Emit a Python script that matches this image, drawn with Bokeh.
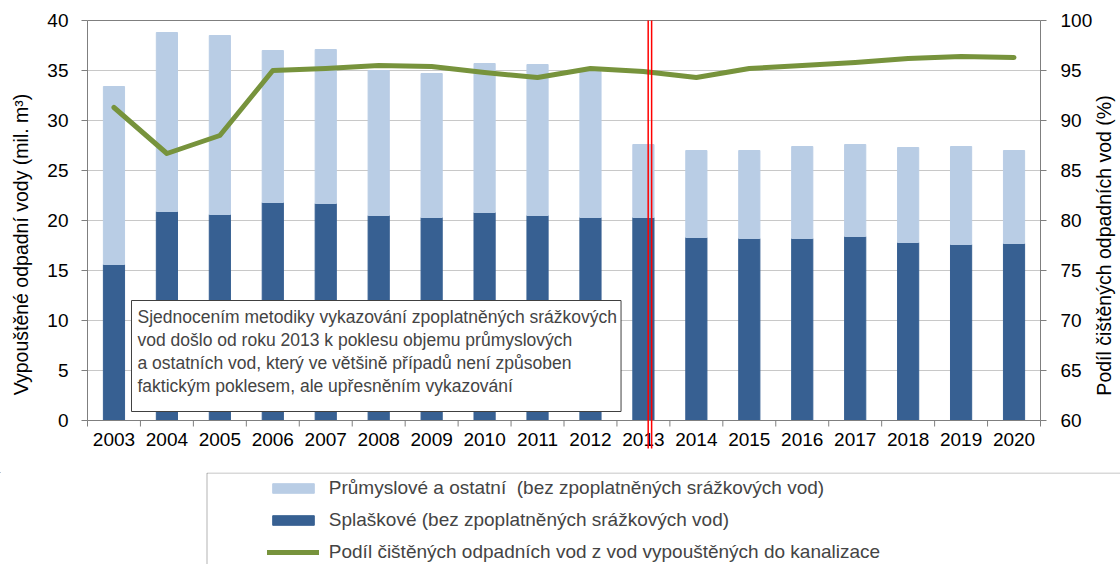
import math
from bokeh.plotting import figure
from bokeh.layouts import column
from bokeh.core.properties import value
from bokeh.models import (Range1d, Label, Legend, LegendItem, ColumnDataSource,
                          BoxAnnotation)
from bokeh.embed import file_html
from bokeh.resources import INLINE

years = list(range(2003, 2021))
splaskove = [15.6, 20.9, 20.6, 21.8, 21.7, 20.5, 20.3, 20.8, 20.5, 20.3,
             20.3, 18.3, 18.2, 18.2, 18.4, 17.8, 17.6, 17.7]
prumyslove = [17.8, 17.9, 17.9, 15.2, 15.4, 14.5, 14.4, 14.9, 15.1, 14.6,
              7.3, 8.7, 8.8, 9.2, 9.2, 9.5, 9.8, 9.3]
podil = [91.3, 86.7, 88.5, 95.0, 95.2, 95.5, 95.4, 94.8, 94.3, 95.2,
         94.9, 94.3, 95.2, 95.5, 95.8, 96.2, 96.4, 96.3]
left_ticks = [0, 5, 10, 15, 20, 25, 30, 35, 40]
right_ticks = [60, 65, 70, 75, 80, 85, 90, 95, 100]
legend_labels = ["Průmyslové a ostatní  (bez zpoplatněných srážkových vod)",
                 "Splaškové (bez zpoplatněných srážkových vod)",
                 "Podíl čištěných odpadních vod z vod vypouštěných do kanalizace"]
note_text = ("Sjednocením metodiky vykazování zpoplatněných srážkových\n"
             "vod došlo od roku 2013 k poklesu objemu průmyslových\n"
             "a ostatních vod, který ve většině případů není způsoben\n"
             "faktickým poklesem, ale upřesněním vykazování")
left_title = "Vypouštěné odpadní vody (mil. m³)"
right_title = "Podíl čištěných odpadních vod (%)"
method_change_year = 2013

LIGHT = "#B9CDE5"
DARK = "#376092"
GREEN = "#77933C"
AXIS = "#7F7F7F"
GRID = "#C8C8C8"
FONT = value("Liberation Sans")
TICK_FS = "19px"
TITLE_FS = "19.5px"

X0, X1 = years[0] - 0.5, years[-1] + 0.5          # category span
PX_PER_YEAR = 953 / len(years)
X_START = X0 - 87 / PX_PER_YEAR                    # room for the left axis
X_END = X0 + 1033 / PX_PER_YEAR                    # room for the right axis
Y_MIN, Y_MAX = -5.2, 42.0                          # room for axis texts
PCT_SHIFT = right_ticks[0] - left_ticks[0]

src = ColumnDataSource(dict(year=years, spl=splaskove, prum=prumyslove, podil=podil))

# ---------------- main chart ----------------
p = figure(width=1120, height=472, x_range=Range1d(X_START, X_END),
           y_range=Range1d(Y_MIN, Y_MAX), output_backend="svg", toolbar_location=None,
           x_axis_type=None, y_axis_type=None,
           min_border_left=0, min_border_right=0, min_border_top=0,
           min_border_bottom=0)
p.extra_y_ranges = {"pct": Range1d(Y_MIN + PCT_SHIFT, Y_MAX + PCT_SHIFT)}
p.outline_line_color = None
p.background_fill_color = "white"
p.border_fill_color = "white"

# horizontal gridlines and top frame line
grid_levels = left_ticks[1:-1]
p.segment(x0=[X0] * len(grid_levels), x1=[X1] * len(grid_levels),
          y0=grid_levels, y1=grid_levels, line_color=GRID, line_width=1)
p.segment(x0=[X0], x1=[X1], y0=[left_ticks[-1]], y1=[left_ticks[-1]],
          line_color=AXIS, line_width=1)

bars = p.vbar_stack(["spl", "prum"], x="year", width=0.4, color=[DARK, LIGHT], source=src)
line = p.line(x="year", y="podil", y_range_name="pct", source=src,
              line_color=GREEN, line_width=5, line_join="round", line_cap="round")

# category (x) axis
bounds_x = [y - 0.5 for y in years] + [X1]
p.segment(x0=[X0], x1=[X1], y0=[0], y1=[0], line_color=AXIS, line_width=1)
p.ray(x=bounds_x, y=[0] * len(bounds_x), length=6, length_units="screen",
      angle=-math.pi / 2, line_color=AXIS, line_width=1)
p.text(x=years, y=[0] * len(years), text=[str(y) for y in years], y_offset=12,
       text_align="center", text_baseline="top",
       text_font=FONT, text_font_size=TICK_FS, text_color="black")

# left (volume) axis
n_l = len(left_ticks)
p.segment(x0=[X0], x1=[X0], y0=[left_ticks[0]], y1=[left_ticks[-1]],
          line_color=AXIS, line_width=1)
p.ray(x=[X0] * n_l, y=left_ticks, length=6, length_units="screen", angle=math.pi,
      line_color=AXIS, line_width=1)
p.text(x=[X0] * n_l, y=left_ticks, text=[str(v) for v in left_ticks],
       x_offset=-19, text_align="right", text_baseline="middle",
       text_font=FONT, text_font_size=TICK_FS, text_color="black")
p.text(x=[X0], y=[17.6], text=[left_title], angle=math.pi / 2,
       x_offset=-67, text_align="center", text_baseline="middle",
       text_font=FONT, text_font_size=TITLE_FS, text_color="black")

# right (percent) axis
n_r = len(right_ticks)
p.segment(x0=[X1], x1=[X1], y0=[right_ticks[0]], y1=[right_ticks[-1]],
          y_range_name="pct", line_color=AXIS, line_width=1)
p.ray(x=[X1] * n_r, y=right_ticks, length=6, length_units="screen", angle=0,
      y_range_name="pct", line_color=AXIS, line_width=1)
p.text(x=[X1] * n_r, y=right_ticks, text=[str(v) for v in right_ticks],
       y_range_name="pct", x_offset=20, text_align="left", text_baseline="middle",
       text_font=FONT, text_font_size=TICK_FS, text_color="black")
p.text(x=[X1], y=[77.5], text=[right_title], y_range_name="pct", angle=math.pi / 2,
       x_offset=63, text_align="center", text_baseline="middle",
       text_font=FONT, text_font_size=TITLE_FS, text_color="black")

# double red line marking the methodology change
p.segment(x0=[method_change_year + 0.09, method_change_year + 0.155],
          x1=[method_change_year + 0.09, method_change_year + 0.155],
          y0=[-2.8, -2.8], y1=[left_ticks[-1], left_ticks[-1]],
          line_color="#FF0000", line_width=1.5)

p.add_layout(Label(x=2003.331, y=12.0, text=note_text, anchor="top_left",
                   text_align="left", text_baseline="top",
                   text_font="Liberation Sans", text_font_size="17.5px",
                   text_line_height=1.15,
                   background_fill_color="white", border_line_color="#404040",
                   border_line_width=1,
                   padding=dict(left=6, right=4, top=6, bottom=16)))

# ---------------- legend strip ----------------
p2 = figure(width=1120, height=92, x_range=Range1d(0, 1120), y_range=Range1d(564, 472),
            output_backend="svg", toolbar_location=None,
            x_axis_type=None, y_axis_type=None,
            min_border_left=0, min_border_right=0, min_border_top=0,
            min_border_bottom=0)
p2.outline_line_color = None
p2.background_fill_color = "white"
p2.border_fill_color = "white"
hidden = ColumnDataSource(dict(x=[-5000], top=[-5000], y=[-5000]))
d_light = p2.vbar(x="x", top="top", width=1, color=LIGHT, source=hidden)
d_dark = p2.vbar(x="x", top="top", width=1, color=DARK, source=hidden)
d_line = p2.line(x="x", y="y", line_color=GREEN, line_width=5, line_cap="round", source=hidden)

p2.add_layout(BoxAnnotation(left=206.5, top=472.5, right=5000, bottom=5000,
                            fill_alpha=0, line_color="black", line_width=1))

legend = Legend(items=[LegendItem(label=legend_labels[0], renderers=[d_light]),
                       LegendItem(label=legend_labels[1], renderers=[d_dark]),
                       LegendItem(label=legend_labels[2], renderers=[d_line])],
                location=(266.8, 1), orientation="vertical", padding=0, margin=0,
                spacing=10, glyph_width=52, glyph_height=12, label_standoff=10,
                label_height=22,
                border_line_color=None, background_fill_alpha=0,
                label_text_font="Liberation Sans", label_text_font_size="19px")
p2.add_layout(legend)

layout = column(p, p2, spacing=0)
open("out.html", "w").write(file_html(layout, INLINE))
